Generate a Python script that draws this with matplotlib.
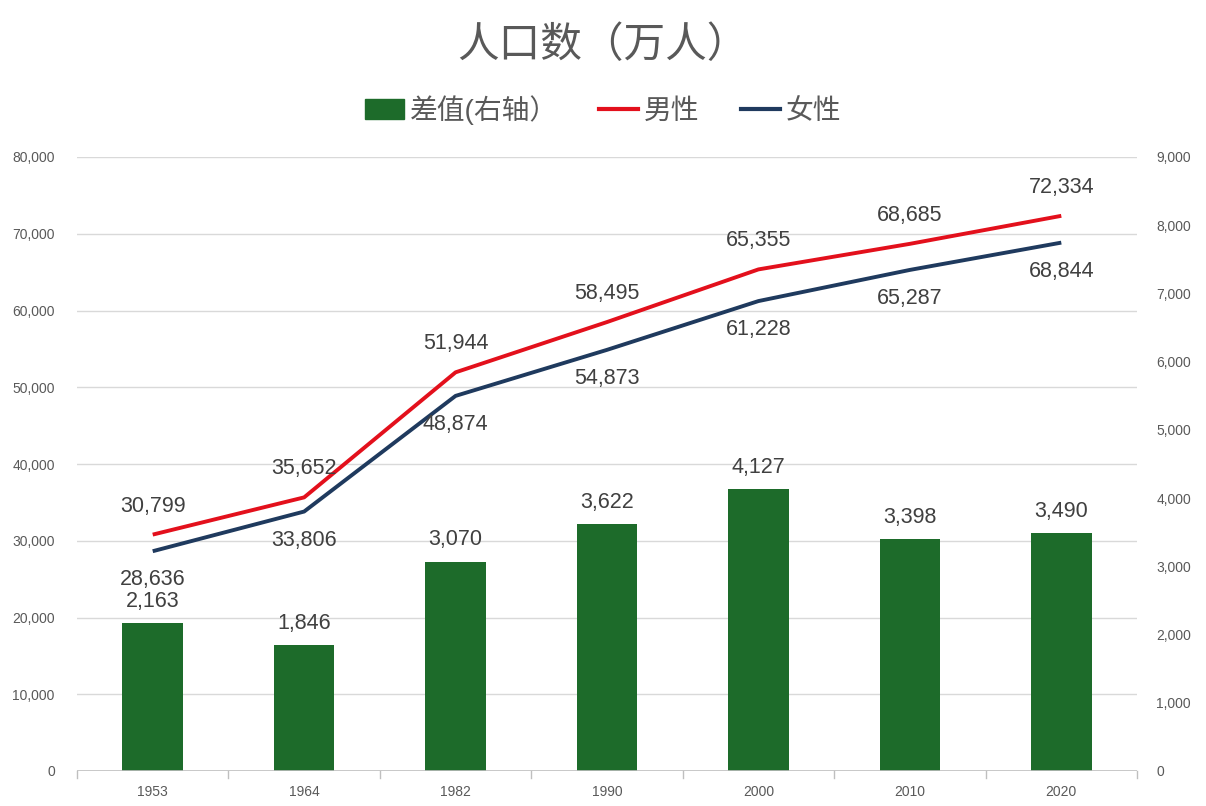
import matplotlib
matplotlib.use("Agg")
import matplotlib.pyplot as plt
from matplotlib.patches import Patch
from matplotlib.lines import Line2D

plt.rcParams['font.family'] = ['Liberation Sans', 'Noto Sans CJK SC', 'DejaVu Sans']

years = ['1953', '1964', '1982', '1990', '2000', '2010', '2020']
male = [30799, 35652, 51944, 58495, 65355, 68685, 72334]
female = [28636, 33806, 48874, 54873, 61228, 65287, 68844]
diff = [2163, 1846, 3070, 3622, 4127, 3398, 3490]

title = '人口数（万人）'
legend_labels = ['差值(右轴）', '男性', '女性']

GREEN = '#1D6B2A'
RED = '#E3101C'
NAVY = '#1F3A5E'
TXT = '#404040'
GRAY = '#595959'

fig = plt.figure(figsize=(12.06, 8.06), dpi=100)
ax = fig.add_axes([77/1206, 1-771/806, (1137-77)/1206, (771-157)/806])
ax2 = ax.twinx()

x = list(range(len(years)))

# bars on right axis
ax2.bar(x, diff, width=0.4, color=GREEN, zorder=2)
ax2.set_ylim(0, 9000)
ax2.set_yticks(range(0, 9001, 1000))
ax2.set_yticklabels([f'{v:,}' for v in range(0, 9001, 1000)])

ax.set_zorder(ax2.get_zorder() + 1)
ax.patch.set_visible(False)

ax.plot(x, male, color=RED, lw=2.8, solid_capstyle='butt', zorder=3)
ax.plot(x, female, color=NAVY, lw=2.8, solid_capstyle='butt', zorder=3)
ax.set_ylim(0, 80000)
ax.set_yticks(range(0, 80001, 10000))
ax.set_yticklabels([f'{v:,}' for v in range(0, 80001, 10000)])
ax.set_xlim(-0.5, len(years) - 0.5)
ax.set_xticks(x)
ax.set_xticklabels(years)

# grid on the left axis scale (drawn behind)
for v in range(10000, 80001, 10000):
    ax2.axhline(v * 9000 / 80000, color='#D9D9D9', lw=1, zorder=0)

for a in (ax, ax2):
    for s in a.spines.values():
        s.set_visible(False)
    a.tick_params(axis='y', length=0, labelsize=10, labelcolor=GRAY, pad=16)
ax.tick_params(axis='x', length=0, labelsize=10, labelcolor=GRAY, pad=10)
ax2.tick_params(axis='y', pad=14)

# bottom axis line with ticks between categories
ax.axhline(0, color='#BFBFBF', lw=1.2, zorder=1)
for b in range(len(years) + 1):
    ax.plot([b - 0.5, b - 0.5], [0, -900], color='#BFBFBF', lw=1, clip_on=False)

# data labels
for i in x:
    ax.annotate(f'{male[i]:,}', (i, male[i]), xytext=(0, 13), textcoords='offset points',
                ha='center', va='bottom', fontsize=15.5, color=TXT)
    ax.annotate(f'{female[i]:,}', (i, female[i]), xytext=(0, -13), textcoords='offset points',
                ha='center', va='top', fontsize=15.5, color=TXT)
    ax2.annotate(f'{diff[i]:,}', (i, diff[i]), xytext=(0, 8), textcoords='offset points',
                 ha='center', va='bottom', fontsize=15.5, color=TXT)

fig.text(0.5, 1 - 46/806, title, ha='center', va='center', fontsize=30, color=GRAY)

handles = [Patch(facecolor=GREEN, edgecolor=GREEN),
           Line2D([0], [0], color=RED, lw=3),
           Line2D([0], [0], color=NAVY, lw=3)]
fig.legend(handles, legend_labels, loc='center', bbox_to_anchor=(0.5, 1 - 110/806),
           ncol=3, frameon=False, fontsize=20, labelcolor=GRAY,
           handlelength=1.4, handletextpad=0.2, columnspacing=1.5)

fig.savefig('out.png', dpi=100)
